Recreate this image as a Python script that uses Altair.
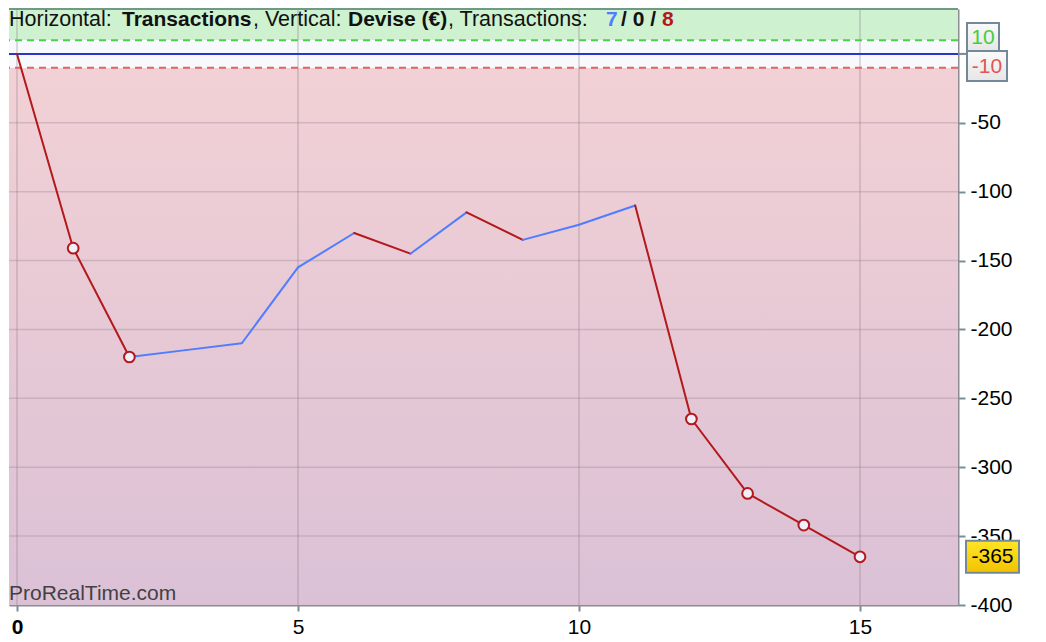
import altair as alt
import pandas as pd

# ---------------- data ----------------
trade_index = list(range(16))
equity = [0, -141, -220, -215, -210, -155, -130, -145, -115, -135, -124, -110,
          -265, -319, -342, -365]
marked_trades = [1, 2, 12, 13, 14, 15]
x_ticks = [0, 5, 10, 15]
y_ticks = [-50, -100, -150, -200, -250, -300, -350, -400]
upper_band = 10
lower_band = -10
zero_level = 0
final_value = -365
title_parts = ["Horizontal:", "Transactions", ", Vertical:", "Devise (\u20ac)",
               ", Transactions:", "7", "/ 0 /", "8"]
watermark = "ProRealTime.com"

# ---------------- layout ----------------
W, H = 949, 596
X_DOMAIN = [-0.1423, 16.744]
Y_DOMAIN = [-400, 32.6]
FONT = "Liberation Sans"
FS = 21
HYPHEN = "replace(datum.label, '\u2212', '-')"

xs = alt.Scale(domain=X_DOMAIN, nice=False, zero=False)
ys = alt.Scale(domain=Y_DOMAIN, nice=False, zero=False)

X_AX = alt.Axis(values=x_ticks, title=None, grid=False, domain=True, domainColor="#8c8c92",
                domainWidth=2, ticks=True, tickColor="#7a8e9a", tickSize=6, tickWidth=2,
                labelFont=FONT, labelFontSize=FS, labelColor="#000000", labelPadding=5,
                labelFontWeight={"condition": {"test": "datum.value == 0", "value": "bold"},
                                 "value": "normal"})
Y_AX = alt.Axis(values=y_ticks, orient="right", title=None, grid=False, domain=True,
                domainColor="#8c8c92", domainWidth=2, ticks=True, tickColor="#7a8e9a",
                tickSize=7, tickWidth=2, labelFont=FONT, labelFontSize=FS,
                labelColor="#000000", labelPadding=5, labelAlign="left",
                labelBaseline="middle", labelExpr=HYPHEN)

dummy = pd.DataFrame({"k": [0]})

# background bands
green_band = alt.Chart(dummy).mark_rect(fill="#cef1d0").encode(
    x=alt.X(datum=X_DOMAIN[0], type="quantitative", scale=xs, axis=X_AX),
    x2=alt.X2(datum=X_DOMAIN[1]),
    y=alt.Y(datum=upper_band, type="quantitative", scale=ys, axis=Y_AX),
    y2=alt.Y2(datum=Y_DOMAIN[1]),
)
white_band = alt.Chart(dummy).mark_rect(fill="#f7f9fd").encode(
    x=alt.X(datum=X_DOMAIN[0], type="quantitative", scale=xs, axis=X_AX),
    x2=alt.X2(datum=X_DOMAIN[1]),
    y=alt.Y(datum=lower_band, type="quantitative", scale=ys, axis=Y_AX),
    y2=alt.Y2(datum=upper_band),
)
pink_band = alt.Chart(dummy).mark_rect(
    fill=alt.Gradient(gradient="linear",
                      stops=[alt.GradientStop(color="#f2d1d5", offset=0),
                             alt.GradientStop(color="#dbc1d6", offset=1)],
                      x1=0, x2=0, y1=0, y2=1)
).encode(
    x=alt.X(datum=X_DOMAIN[0], type="quantitative", scale=xs, axis=X_AX),
    x2=alt.X2(datum=X_DOMAIN[1]),
    y=alt.Y(datum=Y_DOMAIN[0], type="quantitative", scale=ys, axis=Y_AX),
    y2=alt.Y2(datum=lower_band),
)

# gridlines
vgrid = alt.Chart(pd.DataFrame({"x": x_ticks})).mark_rule(
    color="#8a7a84", opacity=0.35, strokeWidth=1.5).encode(
    x=alt.X("x:Q", scale=xs, axis=X_AX))
hgrid = alt.Chart(pd.DataFrame({"y": y_ticks[:-1]})).mark_rule(
    color="#8a7a84", opacity=0.3, strokeWidth=1.5).encode(
    y=alt.Y("y:Q", scale=ys, axis=Y_AX))

# reference lines
up_line = alt.Chart(dummy).mark_rule(color="#4ccf4c", strokeWidth=2, strokeDash=[7, 5]).encode(
    y=alt.Y(datum=upper_band, type="quantitative", scale=ys, axis=Y_AX))
lo_line = alt.Chart(dummy).mark_rule(color="#e06464", strokeWidth=2, strokeDash=[7, 5]).encode(
    y=alt.Y(datum=lower_band, type="quantitative", scale=ys, axis=Y_AX))
zero_line = alt.Chart(dummy).mark_rule(color="#2a36c8", strokeWidth=2).encode(
    y=alt.Y(datum=zero_level, type="quantitative", scale=ys, axis=Y_AX))

# equity segments
seg = pd.DataFrame({
    "x": trade_index[:-1], "x2": trade_index[1:],
    "y": equity[:-1], "y2": equity[1:],
})
seg["outcome"] = ["win" if b > a else "loss" for a, b in zip(seg["y"], seg["y2"])]
segments = alt.Chart(seg).mark_rule(strokeWidth=2, strokeCap="round").encode(
    x=alt.X("x:Q", scale=xs, axis=X_AX), x2="x2:Q",
    y=alt.Y("y:Q", scale=ys, axis=Y_AX), y2="y2:Q",
    color=alt.Color("outcome:N", scale=alt.Scale(domain=["win", "loss"],
                                                 range=["#4f7dff", "#b3181c"]), legend=None),
)

pts = pd.DataFrame({"x": marked_trades, "y": [equity[i] for i in marked_trades]})
points = alt.Chart(pts).mark_point(shape="circle", filled=False, size=115, strokeWidth=2,
                                   fill="#eef0fb", fillOpacity=1, stroke="#b3181c", opacity=1).encode(
    x=alt.X("x:Q", scale=xs, axis=X_AX),
    y=alt.Y("y:Q", scale=ys, axis=Y_AX),
)

# title pieces: (x px, font size, weight, colour)
title_layout = [(0, 21.5, "normal", "#111111"), (113, 21, "bold", "#111111"),
                (244, 21.5, "normal", "#111111"), (339, 21, "bold", "#111111"),
                (439, 21.5, "normal", "#111111"), (597, 21, "bold", "#4f7dff"),
                (612, 21, "bold", "#111111"), (653, 21, "bold", "#b3181c")]
title_layers = []
for txt, (px, fs, fw, col) in zip(title_parts, title_layout):
    title_layers.append(
        alt.Chart(dummy).mark_text(text=txt, align="left", baseline="alphabetic", font=FONT,
                                   fontSize=fs, fontWeight=fw, color=col).encode(
            x=alt.value(px), y=alt.value(17)))

wm = alt.Chart(dummy).mark_text(text=watermark, align="left", baseline="alphabetic", font=FONT,
                                fontSize=FS, color="#333333", opacity=0.9).encode(
    x=alt.value(0), y=alt.value(591))

# top border
top_border = alt.Chart(dummy).mark_rule(color="#6f9a85", strokeWidth=2).encode(
    x=alt.value(0), x2=alt.value(W), y=alt.value(0))

# right-side labels
box_stroke = "#73899a"
box_fill = alt.Gradient(gradient="linear",
                        stops=[alt.GradientStop(color="#fafafa", offset=0),
                               alt.GradientStop(color="#e6e6e6", offset=1)],
                        x1=0, x2=0, y1=0, y2=1)
conn = alt.Chart(dummy).mark_rule(color=box_stroke, strokeWidth=2).encode(
    x=alt.value(W), x2=alt.value(W + 9),
    y=alt.Y(datum=zero_level, type="quantitative", scale=ys, axis=Y_AX))
box_up = alt.Chart(dummy).mark_rect(fill=box_fill, stroke=box_stroke, strokeWidth=2).encode(
    x=alt.value(958), x2=alt.value(990), y=alt.value(14), y2=alt.value(42))
txt_up = alt.Chart(dummy).mark_text(text=str(upper_band), font=FONT, fontSize=FS, color="#3fcf3f",
                                    align="center", baseline="middle").encode(
    x=alt.value(974), y=alt.value(29))
box_lo = alt.Chart(dummy).mark_rect(fill=box_fill, stroke=box_stroke, strokeWidth=2).encode(
    x=alt.value(958), x2=alt.value(998), y=alt.value(42), y2=alt.value(72))
txt_lo = alt.Chart(dummy).mark_text(text=str(lower_band), font=FONT, fontSize=FS, color="#e05555",
                                    align="center", baseline="middle").encode(
    x=alt.value(978), y=alt.value(58))
half = 16 / (H / (Y_DOMAIN[1] - Y_DOMAIN[0]))
box_fin = alt.Chart(pd.DataFrame({"v": [final_value]})).transform_calculate(
    top=f"datum.v + {half}", bot=f"datum.v - {half}"
).mark_rect(
    fill=alt.Gradient(gradient="linear",
                      stops=[alt.GradientStop(color="#ffe626", offset=0),
                             alt.GradientStop(color="#f2c200", offset=1)],
                      x1=0, x2=0, y1=0, y2=1),
    stroke=box_stroke, strokeWidth=2).encode(
    x=alt.value(957), x2=alt.value(1010),
    y=alt.Y("top:Q", scale=ys, axis=Y_AX), y2="bot:Q")
txt_fin = alt.Chart(pd.DataFrame({"v": [final_value]})).mark_text(
    text=str(final_value), font=FONT, fontSize=FS, color="#000000", align="center",
    baseline="middle").encode(
    x=alt.value(983.5), y=alt.Y("v:Q", scale=ys, axis=Y_AX))

chart = alt.layer(
    pink_band, green_band, white_band, vgrid, hgrid, up_line, lo_line, zero_line,
    segments, points, *title_layers, wm, top_border, conn, box_up, txt_up, box_lo, txt_lo,
    box_fin, txt_fin
).properties(
    width=W, height=H, padding={"left": 0, "top": 0, "right": 5, "bottom": 5}
).configure_view(stroke=None).configure(background="#ffffff")

chart.save("out.html", embed_options={"renderer": "svg", "actions": False})
